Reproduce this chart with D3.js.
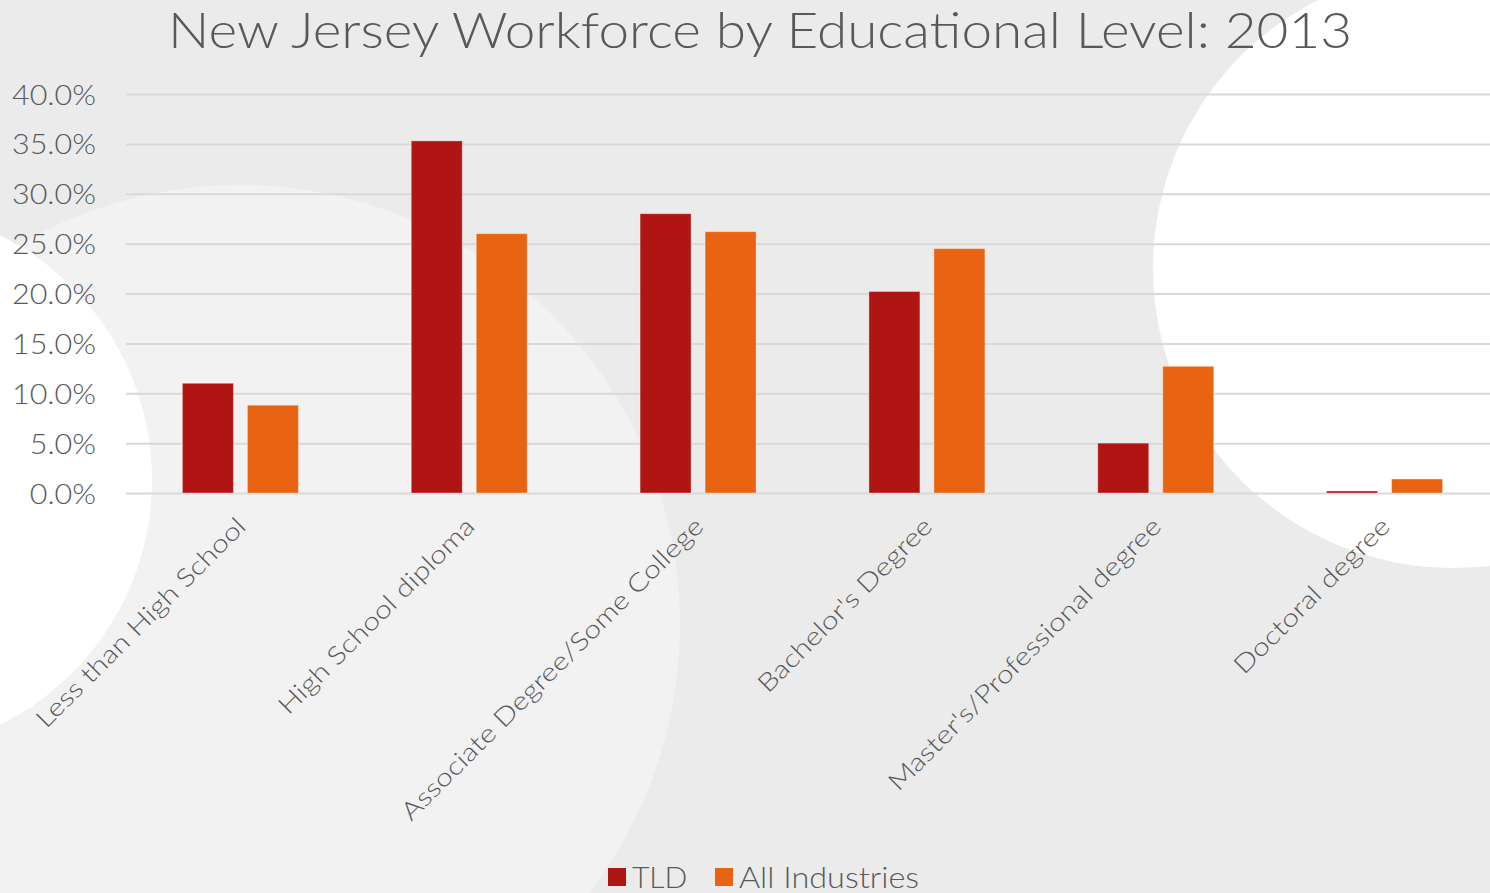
<!DOCTYPE html>
<html><head><meta charset="utf-8">
<script src="https://cdn.jsdelivr.net/npm/d3@7"></script>
<style>html,body{margin:0;padding:0;background:#ebebeb;overflow:hidden}svg{display:block}</style>
</head><body>
<svg id="c" width="1490" height="893"></svg>
<script>
const categories = ["Less than High School","High School diploma","Associate Degree/Some College","Bachelor's Degree","Master's/Professional degree","Doctoral degree"];
const seriesNames = ["TLD","All Industries"];
const tldValues = [11.0, 35.3, 28.0, 20.2, 5.0, 0.2];
const allValues = [8.8, 26.0, 26.2, 24.5, 12.7, 1.4];
const yTicks = [0,5,10,15,20,25,30,35,40];
const title = "New Jersey Workforce by Educational Level: 2013";

const colors = {"TLD":"#b01513","All Industries":"#e86413"};
const font = "'Century Gothic','URW Gothic','Lato','Open Sans',sans-serif";
const textColor = "#595959";

// widen text to approximate the wide geometric face of the original
function widen(sel, factor) {
  sel.each(function() {
    const len = this.getComputedTextLength();
    d3.select(this).attr("textLength", len * factor).attr("lengthAdjust", "spacingAndGlyphs");
  });
}

const svg = d3.select("#c");
const W = 1490, H = 893;
// background
svg.append("rect").attr("width",W).attr("height",H).attr("fill","#ebebeb");
svg.append("circle").attr("cx",240).attr("cy",625).attr("r",440).attr("fill","#f2f2f2");
svg.append("circle").attr("cx",-121).attr("cy",480).attr("r",273).attr("fill","#ffffff");
svg.append("circle").attr("cx",1453).attr("cy",268).attr("r",300).attr("fill","#ffffff");

const pLeft = 126, pRight = 1499, pTop = 94, pBottom = 493;
const y = d3.scaleLinear().domain([0,40]).range([pBottom, pTop]);
const x0 = d3.scaleBand().domain(categories).range([pLeft, pRight]).paddingInner(0).paddingOuter(0);
const half = 58;
const x1 = d3.scaleBand().domain(seriesNames).range([x0.bandwidth()/2 - half, x0.bandwidth()/2 + half]).paddingInner(14/65);

// gridlines
const yAxis = d3.axisLeft(y).tickValues(yTicks).tickSize(-(pRight-pLeft)).tickFormat(d => d.toFixed(1) + "%");
const ga = svg.append("g").attr("transform",`translate(${pLeft},0)`).call(yAxis);
ga.select(".domain").remove();
ga.selectAll(".tick line").attr("stroke","#d9d9d9").attr("stroke-width",2);
ga.selectAll(".tick text").attr("x",-30).attr("fill",textColor).attr("font-family",font)
  .attr("font-weight",300).attr("font-size",28).attr("dy","0.36em");
widen(ga.selectAll(".tick text"), 1.09);

// bars
const data = categories.map((c,i) => ({cat:c, vals:[{s:"TLD",v:tldValues[i]},{s:"All Industries",v:allValues[i]}]}));
const groups = svg.append("g").selectAll("g").data(data).join("g")
  .attr("transform", d => `translate(${x0(d.cat)},0)`);
groups.selectAll("rect").data(d => d.vals).join("rect")
  .attr("x", d => x1(d.s)).attr("width", x1.bandwidth())
  .attr("y", d => y(d.v)).attr("height", d => y(0) - y(d.v))
  .attr("fill", d => colors[d.s])
  .attr("stroke","rgba(255,255,255,0.35)").attr("stroke-width",1);

// x axis labels
const xAxis = d3.axisBottom(x0).tickSize(0).tickPadding(0);
const gx = svg.append("g").attr("transform",`translate(0,${pBottom})`).call(xAxis);
gx.select(".domain").remove();
gx.selectAll(".tick text")
  .attr("fill",textColor).attr("font-family",font).attr("font-weight",300).attr("font-size",25)
  .attr("text-anchor","end").attr("dy",null).attr("y",0)
  .attr("transform","translate(7,35) rotate(-45)");
widen(gx.selectAll(".tick text"), 1.2);

// title
const t = svg.append("text").attr("x",760).attr("y",48).attr("text-anchor","middle")
  .attr("fill",textColor).attr("font-family",font).attr("font-weight",300).attr("font-size",49).text(title);
widen(t, 1.12);

// legend
const legend = svg.append("g");
const lx = [608, 715];
seriesNames.forEach((s,i) => {
  legend.append("rect").attr("x",lx[i]).attr("y",868).attr("width",18).attr("height",18).attr("fill",colors[s]);
  const lt = legend.append("text").attr("x",lx[i]+24).attr("y",888).attr("fill",textColor)
    .attr("font-family",font).attr("font-weight",300).attr("font-size",30).text(s);
  if (i === 1) widen(lt, 1.08);
});
</script>
</body></html>
